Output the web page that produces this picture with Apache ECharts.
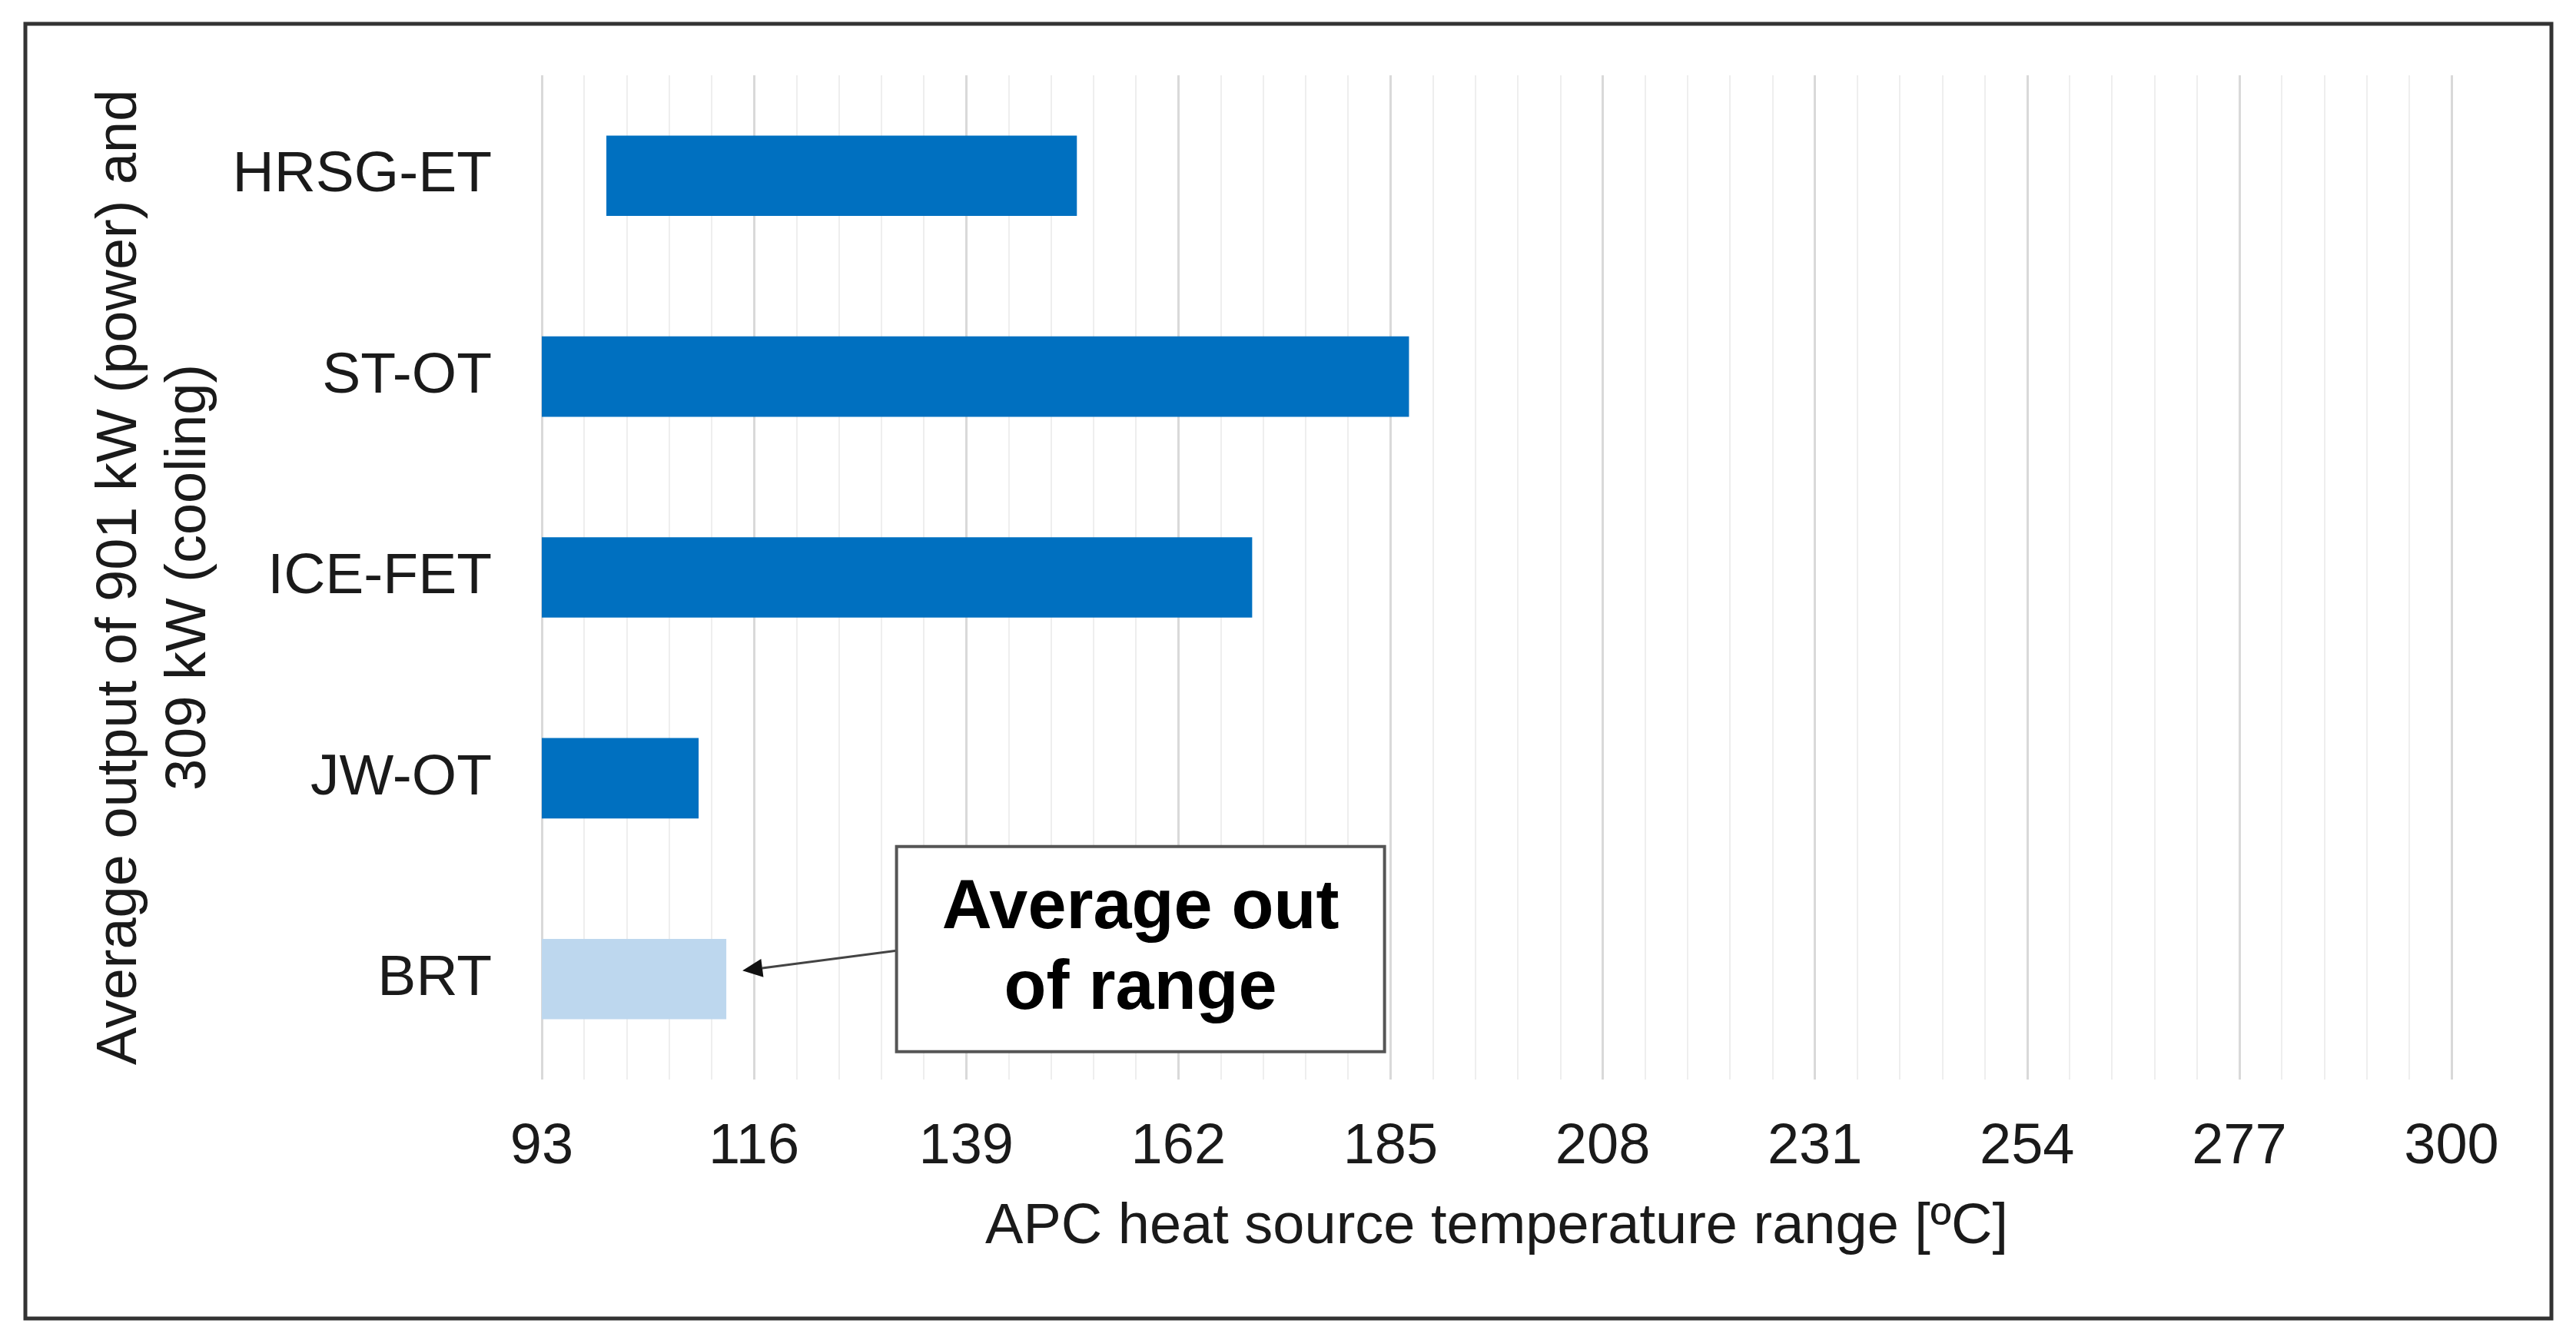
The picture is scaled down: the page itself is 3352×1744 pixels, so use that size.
<!DOCTYPE html>
<html><head><meta charset="utf-8">
<script src="https://cdn.jsdelivr.net/npm/echarts@6/dist/echarts.min.js"></script>
<style>html,body{margin:0;padding:0;background:#fff}#c{width:3352px;height:1744px}</style>
</head><body><div id="c"></div>
<script>
// ---- data ----
const categories = ['HRSG-ET', 'ST-OT', 'ICE-FET', 'JW-OT', 'BRT'];
const rangeStart = [100, 93, 93, 93, 93];
const rangeEnd   = [151, 187, 170, 110, 113];
const outOfRange = [false, false, false, false, true];
const xMin = 93, xMax = 300, xStep = 23;
const xTitle = 'APC heat source temperature range [ºC]';
const yTitle = 'Average output of 901 kW (power) and\n309 kW (cooling)';
const noteText = 'Average out\nof range';
const noteTarget = [115, 'BRT'];     // arrow tip (value, category)
const noteCenter = [157.9, 'BRT'];   // box centre anchor

const FONT = "'Liberation Sans', Arial, sans-serif";
const DARK = '#0070C0', LIGHT = '#BDD7EE';

const chart = echarts.init(document.getElementById('c'), null, {renderer: 'canvas'});
const spans = rangeEnd.map((e, i) => ({
  value: e - rangeStart[i],
  itemStyle: {color: outOfRange[i] ? LIGHT : DARK}
}));

chart.setOption({
  backgroundColor: '#fff',
  animation: false,
  grid: {left: 705, width: 2485, top: 98, height: 1307, containLabel: false},
  xAxis: {
    type: 'value', min: xMin, max: xMax, interval: xStep,
    axisLine: {show: false}, axisTick: {show: false},
    axisLabel: {fontFamily: FONT, fontSize: 74, color: '#1a1a1a', margin: 52},
    splitLine: {show: true, lineStyle: {color: '#D9D9D9', width: 3}},
    minorTick: {show: false, splitNumber: 5},
    minorSplitLine: {show: true, lineStyle: {color: '#EEEEEE', width: 2}},
    name: xTitle, nameLocation: 'middle', nameGap: 156,
    nameTextStyle: {fontFamily: FONT, fontSize: 74, color: '#1a1a1a', verticalAlign: 'top'}
  },
  yAxis: {
    type: 'category', data: categories, inverse: true,
    axisLine: {show: false}, axisTick: {show: false},
    axisLabel: {fontFamily: FONT, fontSize: 75, color: '#1a1a1a', margin: 65},
    splitLine: {show: false},
    name: yTitle, nameLocation: 'middle', nameGap: 407,
    nameTextStyle: {fontFamily: FONT, fontSize: 74, color: '#1a1a1a', lineHeight: 90, align: 'center',
                    padding: [0, 0, 0, 0]}
  },
  series: [
    {type: 'bar', stack: 'r', data: rangeStart, barCategoryGap: '60%',
     itemStyle: {color: 'transparent'}, silent: true},
    {type: 'bar', stack: 'r', data: spans, barCategoryGap: '60%'}
  ]
});

function drawNote() {
  const tip = chart.convertToPixel({gridIndex: 0}, noteTarget);
  const c = chart.convertToPixel({gridIndex: 0}, noteCenter);
  const boxW = 635, boxH = 267;
  const cx = c[0], cy = c[1] - 39;
  const bx = cx - boxW / 2, by = cy - boxH / 2;
  const tipX = tip[0] - 3, tipY = tip[1] - 11;
  const sx = bx, sy = cy + 2;
  const dx = tipX - sx, dy = tipY - sy, len = Math.hypot(dx, dy);
  const ux = dx / len, uy = dy / len, px = -uy, py = ux;
  const hl = 26, hw = 12;
  const baseX = tipX - ux * hl, baseY = tipY - uy * hl;
  chart.setOption({graphic: [
    {type: 'rect', shape: {x: 33, y: 31, width: 3287, height: 1685},
     style: {fill: 'none', stroke: '#333', lineWidth: 5}, z: 100},
    {type: 'line', shape: {x1: sx, y1: sy, x2: baseX, y2: baseY},
     style: {stroke: '#444', lineWidth: 3}, z: 100},
    {type: 'polygon', shape: {points: [[tipX, tipY], [baseX + px * hw, baseY + py * hw], [baseX - px * hw, baseY - py * hw]]},
     style: {fill: '#111'}, z: 100},
    {type: 'rect', shape: {x: bx, y: by, width: boxW, height: boxH},
     style: {fill: '#fff', stroke: '#555', lineWidth: 4}, z: 100},
    {type: 'text', x: cx, y: cy, z: 101,
     style: {text: noteText, fontFamily: FONT, fontWeight: 'bold', fontSize: 90, lineHeight: 105,
             fill: '#000', align: 'center', verticalAlign: 'middle'}}
  ]});
}
drawNote();
</script></body></html>
